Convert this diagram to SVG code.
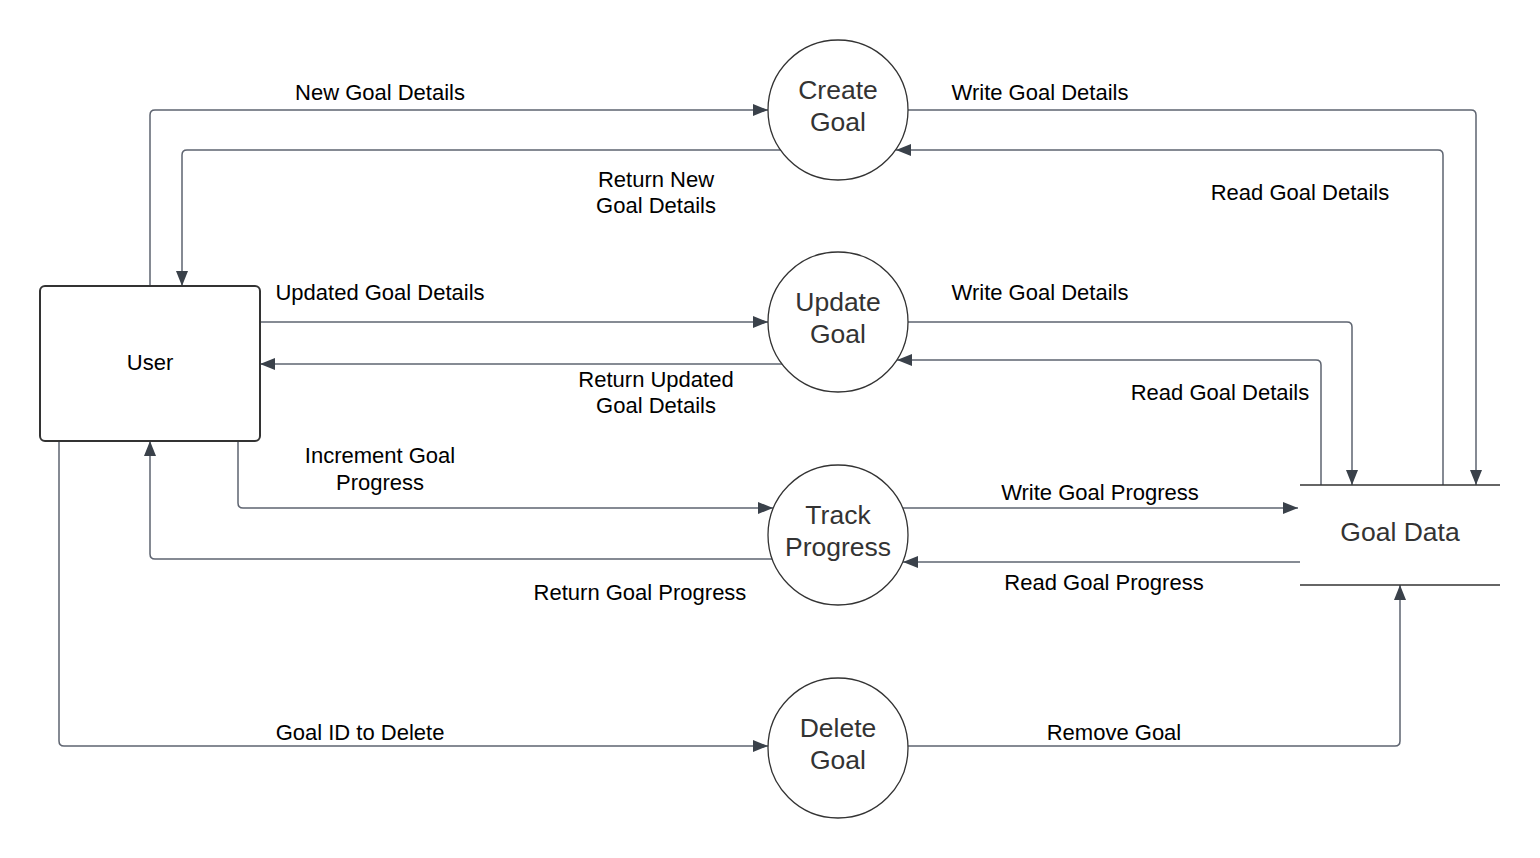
<svg xmlns="http://www.w3.org/2000/svg" width="1540" height="858" viewBox="0 0 1540 858">
<style>
.lbl{font-family:"Liberation Sans",Arial,sans-serif;font-size:22px;fill:#000;text-anchor:middle}
.big{font-family:"Liberation Sans",Arial,sans-serif;font-size:26.5px;fill:#333;text-anchor:middle}
.conn{fill:none;stroke:#5e6470;stroke-width:1.5;marker-end:url(#arr)}
.proc{fill:#fff;stroke:#333;stroke-width:1.3}
</style>
<defs>
<marker id="arr" markerUnits="userSpaceOnUse" markerWidth="16" markerHeight="12" refX="15" refY="6" orient="auto">
<path d="M0,0 L15,6 L0,12 z" fill="#3a414a"/>
</marker>
</defs>
<rect width="1540" height="858" fill="#fff"/>
<g id="connectors">
<path class="conn" d="M150,286 V115 Q150,110 155,110 H768"/>
<path class="conn" d="M781,150 H187 Q182,150 182,155 V286"/>
<path class="conn" d="M908,110 H1471 Q1476,110 1476,115 V485"/>
<path class="conn" d="M1443,485 V155 Q1443,150 1438,150 H896"/>
<path class="conn" d="M260,322 H768"/>
<path class="conn" d="M782,364 H260"/>
<path class="conn" d="M908,322 H1347 Q1352,322 1352,327 V485"/>
<path class="conn" d="M1321,485 V365 Q1321,360 1316,360 H897"/>
<path class="conn" d="M238,441 V503 Q238,508 243,508 H773"/>
<path class="conn" d="M772,559 H155 Q150,559 150,554 V441"/>
<path class="conn" d="M903,508 H1298"/>
<path class="conn" d="M1300,562 H903"/>
<path class="conn" d="M59,441 V741 Q59,746 64,746 H768"/>
<path class="conn" d="M908,746 H1395 Q1400,746 1400,741 V585"/>
<text class="lbl" x="380" y="100">New Goal Details</text>
<text class="lbl" x="656" y="187">Return New</text>
<text class="lbl" x="656" y="213">Goal Details</text>
<text class="lbl" x="1040" y="100">Write Goal Details</text>
<text class="lbl" x="1300" y="200">Read Goal Details</text>
<text class="lbl" x="380" y="300">Updated Goal Details</text>
<text class="lbl" x="656" y="387">Return Updated</text>
<text class="lbl" x="656" y="413">Goal Details</text>
<text class="lbl" x="1040" y="300">Write Goal Details</text>
<text class="lbl" x="1220" y="400">Read Goal Details</text>
<text class="lbl" x="380" y="463">Increment Goal</text>
<text class="lbl" x="380" y="490">Progress</text>
<text class="lbl" x="640" y="600">Return Goal Progress</text>
<text class="lbl" x="1100" y="500">Write Goal Progress</text>
<text class="lbl" x="1104" y="590">Read Goal Progress</text>
<text class="lbl" x="360" y="740">Goal ID to Delete</text>
<text class="lbl" x="1114" y="740">Remove Goal</text>
</g>
<g id="user">
<rect x="40" y="286" width="220" height="155" rx="5" fill="#fff" stroke="#333" stroke-width="2"/>
<text class="lbl" x="150" y="370">User</text>
</g>
<g id="create-goal">
<circle class="proc" cx="838" cy="110" r="70"/>
<text class="big" x="838" y="99">Create</text>
<text class="big" x="838" y="131">Goal</text>
</g>
<g id="update-goal">
<circle class="proc" cx="838" cy="322" r="70"/>
<text class="big" x="838" y="311">Update</text>
<text class="big" x="838" y="343">Goal</text>
</g>
<g id="track-progress">
<circle class="proc" cx="838" cy="535" r="70"/>
<text class="big" x="838" y="524">Track</text>
<text class="big" x="838" y="556">Progress</text>
</g>
<g id="delete-goal">
<circle class="proc" cx="838" cy="748" r="70"/>
<text class="big" x="838" y="737">Delete</text>
<text class="big" x="838" y="769">Goal</text>
</g>
<g id="goal-data">
<rect x="1300" y="485" width="200" height="100" fill="#fff"/>
<line x1="1300" y1="485" x2="1500" y2="485" stroke="#333" stroke-width="1.5"/>
<line x1="1300" y1="585" x2="1500" y2="585" stroke="#333" stroke-width="1.5"/>
<text class="big" x="1400" y="541">Goal Data</text>
</g>
</svg>
